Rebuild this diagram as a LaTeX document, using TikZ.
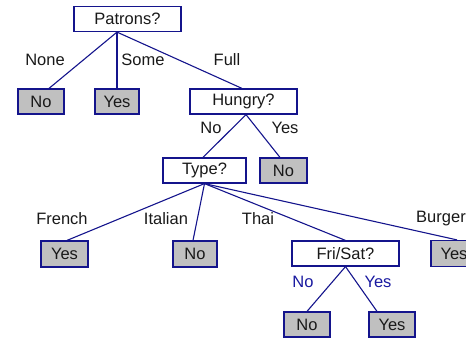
\documentclass[tikz,border=0pt]{standalone}
\usepackage{fontspec}
\setmainfont{Liberation Sans}
\definecolor{edgeblue}{RGB}{20,20,140}
\definecolor{lblblue}{RGB}{25,25,160}
\definecolor{leafgray}{RGB}{192,192,192}
\definecolor{txt}{RGB}{25,25,25}
\begin{document}
\begin{tikzpicture}[x=1pt,y=-1pt,
  font=\fontsize{16.5}{18}\selectfont,
  testbox/.style={draw=edgeblue,line width=1.2pt,fill=white,inner sep=0pt,text=txt,minimum height=25pt},
  leafbox/.style={draw=edgeblue,line width=1.2pt,fill=leafgray,inner sep=0pt,text=txt,minimum height=25pt,minimum width=46pt},
  edge/.style={draw=edgeblue,line width=1.1pt},
  lbl/.style={text=txt,inner sep=0pt},
  blbl/.style={text=lblblue,inner sep=0pt}]
\useasboundingbox (0,0) rectangle (466,340);
\begin{scope}
\clip (0,0) rectangle (466,340);
% nodes
\node[testbox,minimum width=107pt] (patrons) at (127.5,19) {Patrons?};
\node[leafbox] (no1) at (41,101.5) {No};
\node[leafbox,minimum width=44pt] (yes1) at (117,101.5) {Yes};
\node[testbox,minimum width=107pt] (hungry) at (243.5,101.5) {Hungry?};
\node[testbox,minimum width=83pt] (type) at (204.5,170.5) {Type?};
\node[leafbox,minimum width=47pt] (no2) at (283.5,170.5) {No};
\node[leafbox,minimum width=47pt,minimum height=26pt] (yesfr) at (64.5,254) {Yes};
\node[leafbox,minimum width=44pt,minimum height=26pt] (noit) at (195,254) {No};
\node[testbox,minimum width=107pt] (frisat) at (345.5,253.5) {Fri/Sat?};
\node[leafbox,minimum height=26pt] (yesbu) at (454,253.5) {Yes};
\node[leafbox] (nofs) at (307,324.5) {No};
\node[leafbox] (yesfs) at (392,324.5) {Yes};
% edges
\draw[edge] ([xshift=-10.5pt]patrons.south) -- ([xshift=8pt]no1.north);
\draw[edge] ([xshift=-10.5pt]patrons.south) -- (yes1.north);
\draw[edge] ([xshift=-10.5pt]patrons.south) -- ([xshift=-1.5pt]hungry.north);
\draw[edge] ([xshift=2.5pt]hungry.south) -- ([xshift=-1.5pt]type.north);
\draw[edge] ([xshift=2.5pt]hungry.south) -- ([xshift=-3.5pt]no2.north);
\draw[edge] (type.south) -- ([xshift=2.5pt]yesfr.north);
\draw[edge] (type.south) -- ([xshift=-2pt]noit.north);
\draw[edge] (type.south) -- (frisat.north);
\draw[edge] (type.south) -- ([xshift=3pt]yesbu.north);
\draw[edge] (frisat.south) -- (nofs.north);
\draw[edge] (frisat.south) -- ([xshift=-15pt]yesfs.north);
% labels
\node[lbl] (lnone) at (45,60) {None};
\node[lbl] (lsome) at (143,60) {Some};
\node[lbl] (lfull) at (227,60) {Full};
\node[lbl] (lhno) at (211,128) {No};
\node[lbl] (lhyes) at (285,128) {Yes};
\node[lbl] (lfr) at (62,219) {French};
\node[lbl] (lit) at (166,219) {Italian};
\node[lbl] (lth) at (258,219) {Thai};
\node[lbl] (lbu) at (441,219) {Burger};
\node[blbl] (lfno) at (303,282) {No};
\node[blbl] (lfyes) at (378,282) {Yes};
\end{scope}
\end{tikzpicture}
\end{document}
